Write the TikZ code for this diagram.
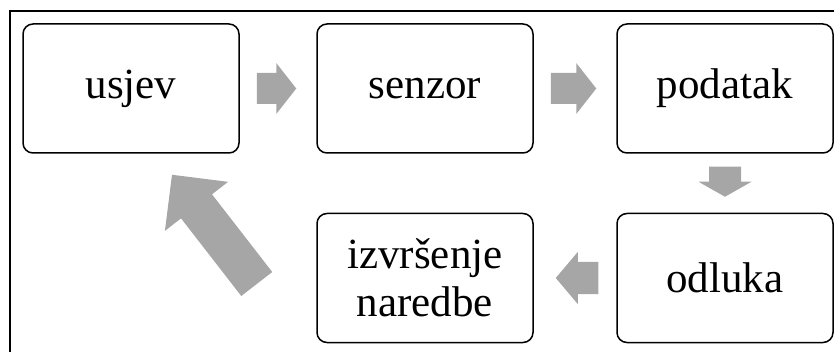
\documentclass[tikz,border=0pt]{standalone}
\usepackage{fontspec}
\setmainfont{Liberation Serif}
\usetikzlibrary{calc}
\definecolor{arrowgray}{RGB}{166,166,166}
\tikzset{
  stepbox/.style={draw=black, line width=1.5pt, rounded corners=10pt,
    minimum width=216pt, minimum height=129pt, inner sep=0pt, align=center,
    font=\fontsize{43}{48}\selectfont},
  framestyle/.style={draw=black, line width=1.2pt}
}
\newcommand{\blockarrow}[5]{%
  \coordinate (bn) at ($(#2)!#5!(#1)$);
  \fill[arrowgray] ($(#1)!#3!90:(#2)$) -- ($(bn)!#3!90:(#2)$) -- ($(bn)!#4!90:(#2)$)
    -- (#2) -- ($(bn)!#4!-90:(#2)$) -- ($(bn)!#3!-90:(#2)$) -- ($(#1)!#3!-90:(#2)$) -- cycle;
}
\begin{document}
\begin{tikzpicture}[x=1pt, y=-1pt]
\useasboundingbox (0,0) rectangle (834,352);
\coordinate (fb) at (10,360);
\coordinate (fc) at (10,11);
\coordinate (fr) at (840,11);
\draw[framestyle] (fb) -- (fc) -- (fr);

\node[stepbox] (usjev) at (131,88.5) {usjev};
\node[stepbox] (senzor) at (425,88.5) {senzor};
\node[stepbox] (podatak) at (725,88.5) {podatak};
\node[stepbox] (odluka) at (725,278) {odluka};
\node[stepbox] (izvrsenje) at (425,278) {izvršenje\\naredbe};

\coordinate (t1) at ($(usjev.east)+(17,0)$);
\coordinate (h1) at ($(senzor.west)+(-20,0)$);
\blockarrow{t1}{h1}{15.5pt}{25.5pt}{20pt}

\coordinate (t2) at ($(senzor.east)+(17,0)$);
\coordinate (h2) at ($(podatak.west)+(-20,0)$);
\blockarrow{t2}{h2}{15.5pt}{25.5pt}{20pt}

\coordinate (t3) at ($(podatak.south)+(0,13)$);
\coordinate (h3) at ($(odluka.north)+(0,-16)$);
\blockarrow{t3}{h3}{16pt}{26.5pt}{15pt}

\coordinate (t4) at ($(odluka.west)+(-18,0)$);
\coordinate (h4) at ($(izvrsenje.east)+(22,0)$);
\blockarrow{t4}{h4}{16pt}{26pt}{22pt}

\coordinate (t5) at ($(izvrsenje.west)+(-59.5,6)$);
\coordinate (h5) at ($(usjev.south)+(41,21)$);
\blockarrow{t5}{h5}{19.6pt}{40pt}{40pt}
\end{tikzpicture}
\end{document}
